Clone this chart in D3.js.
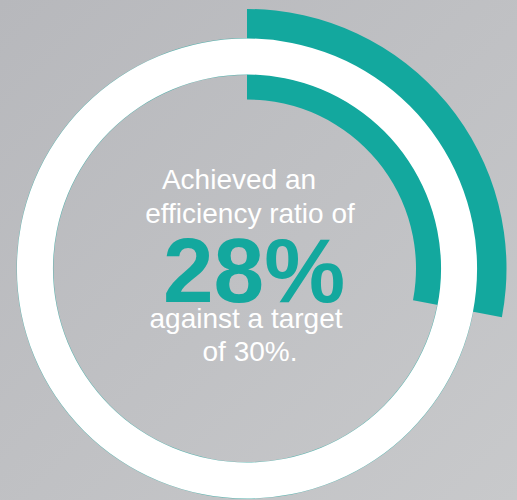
<!DOCTYPE html>
<html>
<head>
<meta charset="utf-8">
<script src="https://cdn.jsdelivr.net/npm/d3@7"></script>
<style>
  html, body { margin: 0; padding: 0; }
  body { width: 517px; height: 500px; overflow: hidden; }
  svg { display: block; }
</style>
</head>
<body>
<svg id="chart" width="517" height="500"></svg>
<script>
// ---- data ----
const arcNames = ["achieved", "target"];
const arcPercents = [28, 28];           // sweep of each teal arc as drawn (% of full circle)
const textLines = ["Achieved an", "efficiency ratio of", "28%", "against a target", "of 30%."];
const headlineValue = "28%";

// ---- layout ----
const W = 517, H = 500;
const cx = 247, cy = 268.5;
const svg = d3.select("#chart");

const defs = svg.append("defs");
const grad = defs.append("linearGradient").attr("id", "bg")
  .attr("x1", "0%").attr("y1", "0%").attr("x2", "100%").attr("y2", "100%");
grad.append("stop").attr("offset", "0%").attr("stop-color", "#b7b8bc");
grad.append("stop").attr("offset", "100%").attr("stop-color", "#c8c9cb");
svg.append("rect").attr("width", W).attr("height", H).attr("fill", "url(#bg)");

const teal = "#13a89e";
const angle = d3.scaleLinear().domain([0, 100]).range([0, 2 * Math.PI]);

const g = svg.append("g").attr("transform", `translate(${cx},${cy})`);

const radii = {
  achieved: [169, 194.5],
  target: [229, 259.5]
};

// faint teal halo under the white ring
g.append("path")
  .attr("d", d3.arc()({innerRadius: 193.6, outerRadius: 230.4, startAngle: 0, endAngle: 2 * Math.PI}))
  .attr("fill", teal).attr("opacity", 0.6);

// teal arcs
arcNames.forEach((name, i) => {
  g.append("path")
    .attr("d", d3.arc()({
      innerRadius: radii[name][0],
      outerRadius: radii[name][1],
      startAngle: angle(0),
      endAngle: angle(arcPercents[i])
    }))
    .attr("fill", teal);
});

// white ring
g.append("path")
  .attr("d", d3.arc()({innerRadius: 194, outerRadius: 230, startAngle: 0, endAngle: 2 * Math.PI}))
  .attr("fill", "#ffffff");

// text
const font = "'Liberation Sans', Arial, Helvetica, sans-serif";
const lineSpecs = [
  {y: 188.5, size: 28, weight: 400, color: "#ffffff", dx: -8},
  {y: 222.5, size: 28, weight: 400, color: "#ffffff", dx: 3},
  {y: 301.5, size: 91, weight: 700, color: teal, dx: 7},
  {y: 327.5, size: 28, weight: 400, color: "#ffffff", dx: -1},
  {y: 360.5, size: 28, weight: 400, color: "#ffffff", dx: 3}
];
textLines.forEach((t, i) => {
  const s = lineSpecs[i];
  svg.append("text")
    .attr("x", cx + s.dx).attr("y", s.y)
    .attr("text-anchor", "middle")
    .attr("font-family", font)
    .attr("font-size", s.size)
    .attr("font-weight", s.weight)
    .attr("fill", s.color)
    .text(t);
});
</script>
</body>
</html>
